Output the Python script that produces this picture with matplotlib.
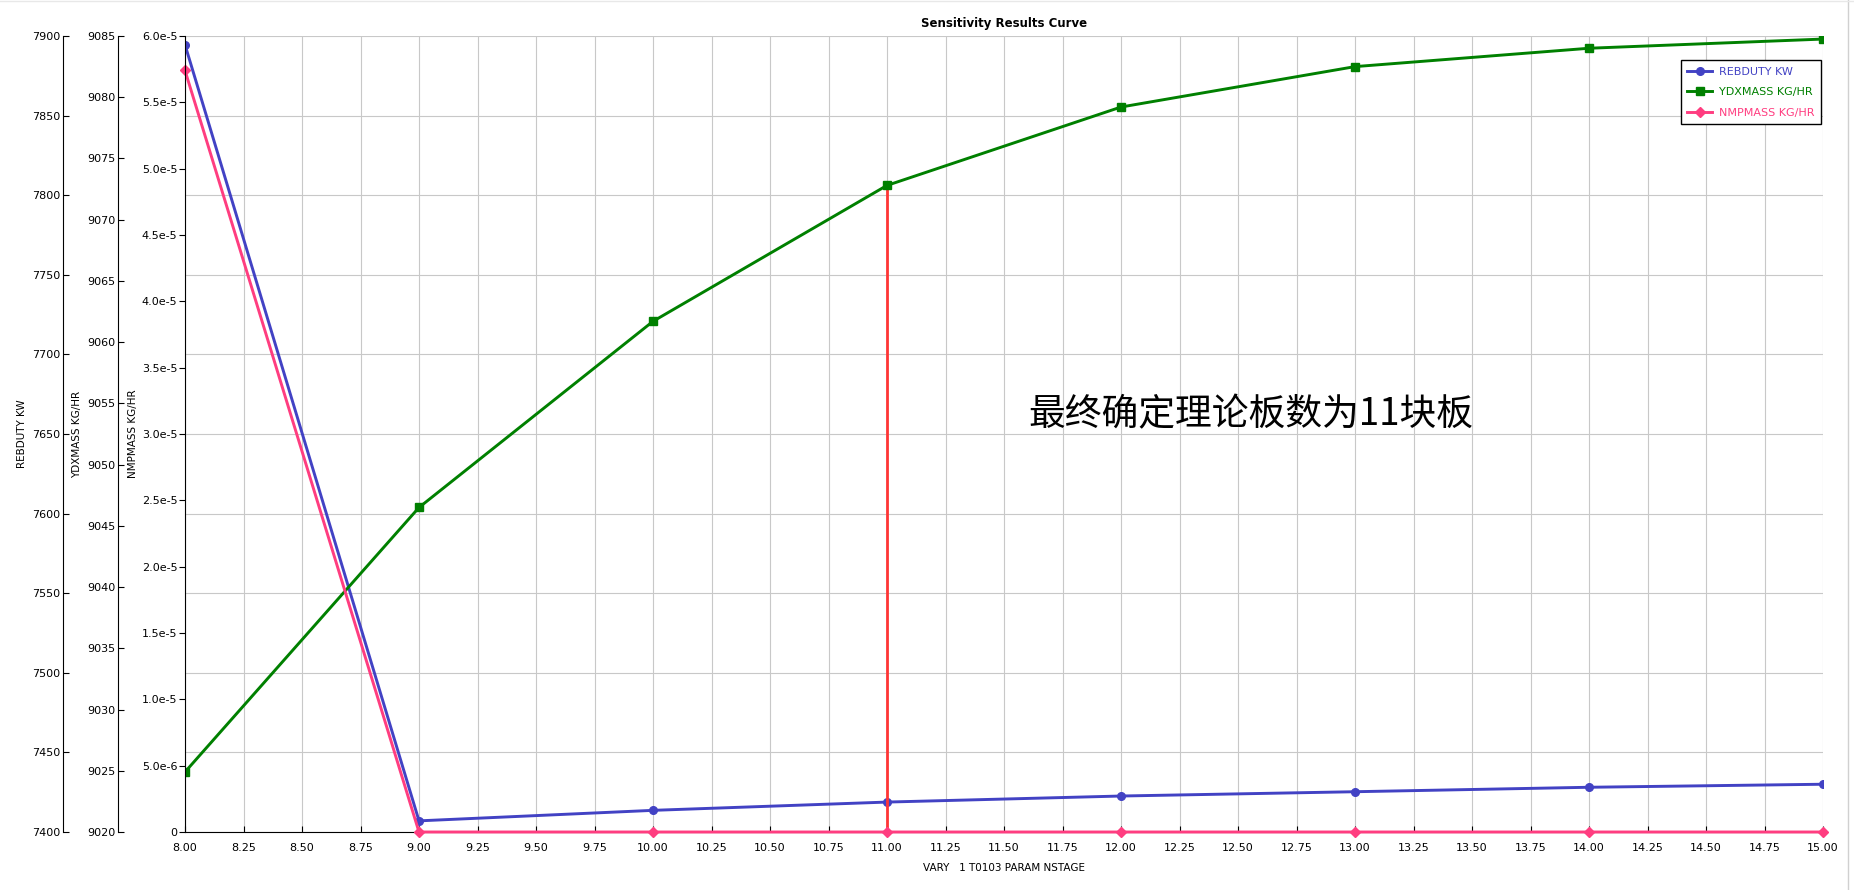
import matplotlib
matplotlib.use("Agg")
import matplotlib.pyplot as plt
from matplotlib.ticker import MultipleLocator, FuncFormatter
from matplotlib.lines import Line2D

plt.rcParams['font.family'] = ['DejaVu Sans']

# dados
nstage = [8, 9, 10, 11, 12, 13, 14, 15]
rebduty = [7894.5, 7407.0, 7413.6, 7418.8, 7422.6, 7425.3, 7428.1, 7430.0]
ydxmass = [9024.9, 9046.5, 9061.7, 9072.8, 9079.2, 9082.5, 9084.0, 9084.75]
nmpmass = [5.74e-5, 0, 0, 0, 0, 0, 0, 0]
etapa_escolhida = 11
texto_nota = "最终确定理论板数为11块板"

cor_reb = "#4242c4"
cor_ydx = "#008000"
cor_nmp = "#ff3d80"
cor_vert = "#ff3535"

fig = plt.figure(figsize=(18.54, 8.90), dpi=100)
ax_reb = fig.add_axes([185 / 1854, 58 / 890, 1638 / 1854, 796 / 890])
ax_ydx = ax_reb.twinx()
ax_nmp = ax_reb.twinx()

# eixos deslocados para a esquerda
ax_reb.spines['left'].set_position(('axes', -122 / 1638))
ax_ydx.spines['left'].set_position(('axes', -67 / 1638))
for a in (ax_reb, ax_ydx, ax_nmp):
    a.spines['top'].set_visible(False)
    a.spines['right'].set_visible(False)
    a.yaxis.set_ticks_position('left')
    a.yaxis.set_label_position('left')
for a in (ax_ydx, ax_nmp):
    a.spines['left'].set_visible(True)
    a.spines['bottom'].set_visible(False)

ax_reb.set_xlim(8, 15)
ax_reb.set_ylim(7400, 7900)
ax_ydx.set_ylim(9020, 9085)
ax_nmp.set_ylim(0, 6e-5)

ax_reb.xaxis.set_major_locator(MultipleLocator(0.25))
ax_reb.xaxis.set_major_formatter(FuncFormatter(lambda v, p: f"{v:.2f}"))
ax_reb.yaxis.set_major_locator(MultipleLocator(50))
ax_ydx.yaxis.set_major_locator(MultipleLocator(5))
ax_nmp.yaxis.set_major_locator(MultipleLocator(5e-6))


def fmt_exp(v, p):
    if abs(v) < 1e-12:
        return "0"
    m, e = f"{v:.1e}".split("e")
    return f"{m}e{int(e)}"


ax_nmp.yaxis.set_major_formatter(FuncFormatter(fmt_exp))

ax_reb.tick_params(axis='x', direction='in', length=4, pad=8, labelsize=8)
ax_reb.tick_params(axis='y', direction='in', length=4, pad=2, labelsize=8)
ax_ydx.tick_params(axis='y', direction='in', length=4, pad=2, labelsize=8)
ax_nmp.tick_params(axis='y', direction='out', length=4, pad=1.5, labelsize=8)

ax_reb.grid(True, color="#c8c8c8", linewidth=0.8)
ax_reb.set_axisbelow(True)

ax_reb.set_ylabel("REBDUTY KW", fontsize=7.5)
ax_ydx.set_ylabel("YDXMASS KG/HR", fontsize=7.5)
ax_nmp.set_ylabel("NMPMASS KG/HR", fontsize=7.5)
ax_reb.yaxis.set_label_coords(-158 / 1638, 0.5)
ax_ydx.yaxis.set_label_coords(-103 / 1638, 0.5)
ax_nmp.yaxis.set_label_coords(-47 / 1638, 0.5)
ax_reb.set_xlabel("VARY   1 T0103 PARAM NSTAGE", fontsize=7.5, labelpad=7)

# curvas
l1, = ax_reb.plot(nstage, rebduty, color=cor_reb, linewidth=2.1, marker='o',
                  markersize=5.5, label="REBDUTY KW")
l2, = ax_ydx.plot(nstage, ydxmass, color=cor_ydx, linewidth=2.1, marker='s',
                  markersize=5.5, label="YDXMASS KG/HR")
l3, = ax_nmp.plot(nstage, nmpmass, color=cor_nmp, linewidth=2.1, marker='D',
                  markersize=5, label="NMPMASS KG/HR", clip_on=False)

# linha vertical no numero de estagios escolhido
y_escolhido = ydxmass[nstage.index(etapa_escolhida)]
ax_ydx.plot([etapa_escolhida, etapa_escolhida], [9020, y_escolhido],
            color=cor_vert, linewidth=2, zorder=1.5)

ax_nmp.text(0.515, 0.511, texto_nota, transform=ax_nmp.transAxes,
            fontsize=26.5, family=['Noto Sans CJK SC', 'DejaVu Sans'],
            fontweight='light', ha='left', va='baseline')

leg = ax_nmp.legend(handles=[l1, l2, l3], loc='upper right',
                    bbox_to_anchor=(1.002, 0.977), fontsize=8,
                    labelcolor='linecolor', fancybox=False, framealpha=1,
                    edgecolor='black', handlelength=2.2, borderpad=0.6,
                    labelspacing=0.95, handletextpad=0.6)
leg.get_frame().set_linewidth(1)

fig.text(0.5415, 0.974, "Sensitivity Results Curve", fontsize=8.5,
         fontweight='bold', ha='center', va='center')

fig.add_artist(Line2D([1848 / 1854, 1848 / 1854], [0, 1], color="#d0d0d0",
                      linewidth=1))
fig.add_artist(Line2D([0, 1], [0.9985, 0.9985], color="#e8e8e8",
                      linewidth=1))

fig.savefig("out.png", dpi=100)
